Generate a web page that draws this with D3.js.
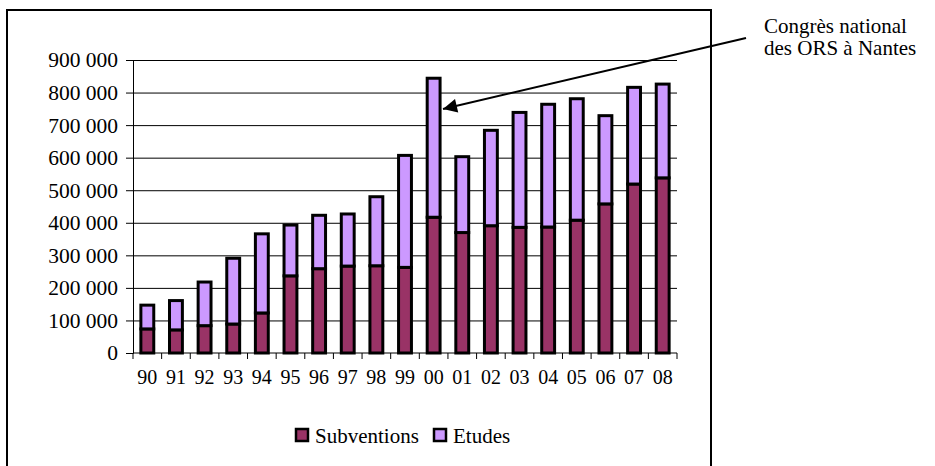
<!DOCTYPE html>
<html>
<head>
<meta charset="utf-8">
<script src="https://cdn.jsdelivr.net/npm/d3@7"></script>
</head>
<body style="margin:0; background:#fff">
<svg id="chart" width="935" height="466" font-family="Liberation Serif"></svg>
<script>
// values
var years = ["90","91","92","93","94","95","96","97","98","99","00","01","02","03","04","05","06","07","08"]
var subventions = [74000, 71000, 84000, 89000, 123000, 237000, 259000, 267000, 268000, 263000, 417000, 370000, 391000, 386000, 387000, 408000, 458000, 519000, 538000]
var totals = [147000, 161000, 218000, 291000, 366000, 393000, 423000, 427000, 480000, 607000, 844000, 603000, 684000, 739000, 764000, 781000, 729000, 816000, 826000]
var etudes = totals.map(function(t, i){ return t - subventions[i] })
var yTicks = [0, 100000, 200000, 300000, 400000, 500000, 600000, 700000, 800000, 900000]
var seriesNames = ["Subventions", "Etudes"]
var colors = ["#993366", "#CC99FF"]

var serif = "Liberation Serif"

var dimensions = {
    left: 133, right: 677, top: 60, bottom: 353
}

var svg = d3.select("#chart")

// outer frame (bottom edge lies below the picture)
svg.append("rect")
    .attr("x", 7).attr("y", 10)
    .attr("width", 704).attr("height", 520)
    .attr("fill", "none").attr("stroke", "#000").attr("stroke-width", 2)

var xScale = d3.scaleBand()
    .domain(years)
    .range([dimensions.left, dimensions.right])
    .paddingInner(0.55).paddingOuter(0.275)

var xBand = d3.scaleBand()
    .domain(years)
    .range([dimensions.left, dimensions.right])

var yScale = d3.scaleLinear()
    .domain([0, 900000])
    .range([dimensions.bottom, dimensions.top])

var fmt = function(d){ return d3.format(",")(d).replace(/,/g, " ") }

// gridlines
svg.append("g")
    .selectAll("line")
    .data(yTicks.slice(1))
    .enter()
    .append("line")
    .attr("x1", dimensions.left).attr("x2", dimensions.right)
    .attr("y1", function(d){ return yScale(d) + 0.5 })
    .attr("y2", function(d){ return yScale(d) + 0.5 })
    .attr("stroke", "#000").attr("stroke-width", 1)

// stacked data
var rows = years.map(function(y, i){ return { year: y, Subventions: subventions[i], Etudes: etudes[i] } })
var stacked = d3.stack().keys(seriesNames)(rows)

svg.append("g")
    .selectAll("g")
    .data(stacked)
    .enter()
    .append("g")
    .attr("fill", function(d, i){ return colors[i] })
    .selectAll("rect")
    .data(function(d){ return d })
    .enter()
    .append("rect")
    .attr("x", function(d){ return xScale(d.data.year) })
    .attr("width", xScale.bandwidth())
    .attr("y", function(d){ return yScale(d[1]) })
    .attr("height", function(d){ return yScale(d[0]) - yScale(d[1]) })
    .attr("stroke", "#000").attr("stroke-width", 3)

// y axis
var yAxis = d3.axisLeft(yScale).tickValues(yTicks).tickFormat(fmt).tickSize(7).tickPadding(8)
var yg = svg.append("g")
    .attr("transform", "translate(" + dimensions.left + ",0)")
    .call(yAxis)
    .attr("font-family", serif)
    .attr("font-size", 21.5)
yg.selectAll("text").attr("fill", "#000")
yg.select(".domain").attr("stroke-width", 1)

// x axis: ticks sit between categories
var xg = svg.append("g")
    .attr("transform", "translate(0," + dimensions.bottom + ")")
xg.append("line")
    .attr("x1", dimensions.left).attr("x2", dimensions.right)
    .attr("stroke", "#000").attr("stroke-width", 1)
xg.selectAll(".tk")
    .data(years.concat(["end"]))
    .enter()
    .append("line")
    .attr("x1", function(d, i){ return i < years.length ? xBand(d) : dimensions.right })
    .attr("x2", function(d, i){ return i < years.length ? xBand(d) : dimensions.right })
    .attr("y1", 0).attr("y2", 6)
    .attr("stroke", "#000")
xg.selectAll("text")
    .data(years)
    .enter()
    .append("text")
    .attr("x", function(d){ return xBand(d) + xBand.bandwidth() / 2 })
    .attr("y", 31)
    .attr("text-anchor", "middle")
    .attr("font-family", serif)
    .attr("font-size", 20)
    .text(function(d){ return d })

// annotation
svg.append("defs").append("marker")
    .attr("id", "head")
    .attr("viewBox", "0 0 10 10")
    .attr("refX", 10).attr("refY", 5)
    .attr("markerWidth", 8).attr("markerHeight", 7)
    .attr("markerUnits", "strokeWidth")
    .attr("orient", "auto")
    .append("path").attr("d", "M0,0 L10,5 L0,10 z").attr("fill", "#000")

svg.append("line")
    .attr("x1", 746).attr("y1", 38)
    .attr("x2", 443).attr("y2", 109)
    .attr("stroke", "#000").attr("stroke-width", 2)
    .attr("marker-end", "url(#head)")

var note = svg.append("text").attr("font-family", serif).attr("font-size", 21)
note.append("tspan").attr("x", 764).attr("y", 33).text("Congrès national")
note.append("tspan").attr("x", 764).attr("y", 55).text("des ORS à Nantes")

// legend
var legend = svg.append("g")
var legendX = [296, 434]
seriesNames.forEach(function(name, i){
    legend.append("rect")
        .attr("x", legendX[i]).attr("y", 429)
        .attr("width", 12).attr("height", 12)
        .attr("fill", colors[i]).attr("stroke", "#000").attr("stroke-width", 2.5)
    legend.append("text")
        .attr("x", legendX[i] + 19).attr("y", 443)
        .attr("font-family", serif)
        .attr("font-size", 21)
        .text(name)
})
</script>
</body>
</html>
